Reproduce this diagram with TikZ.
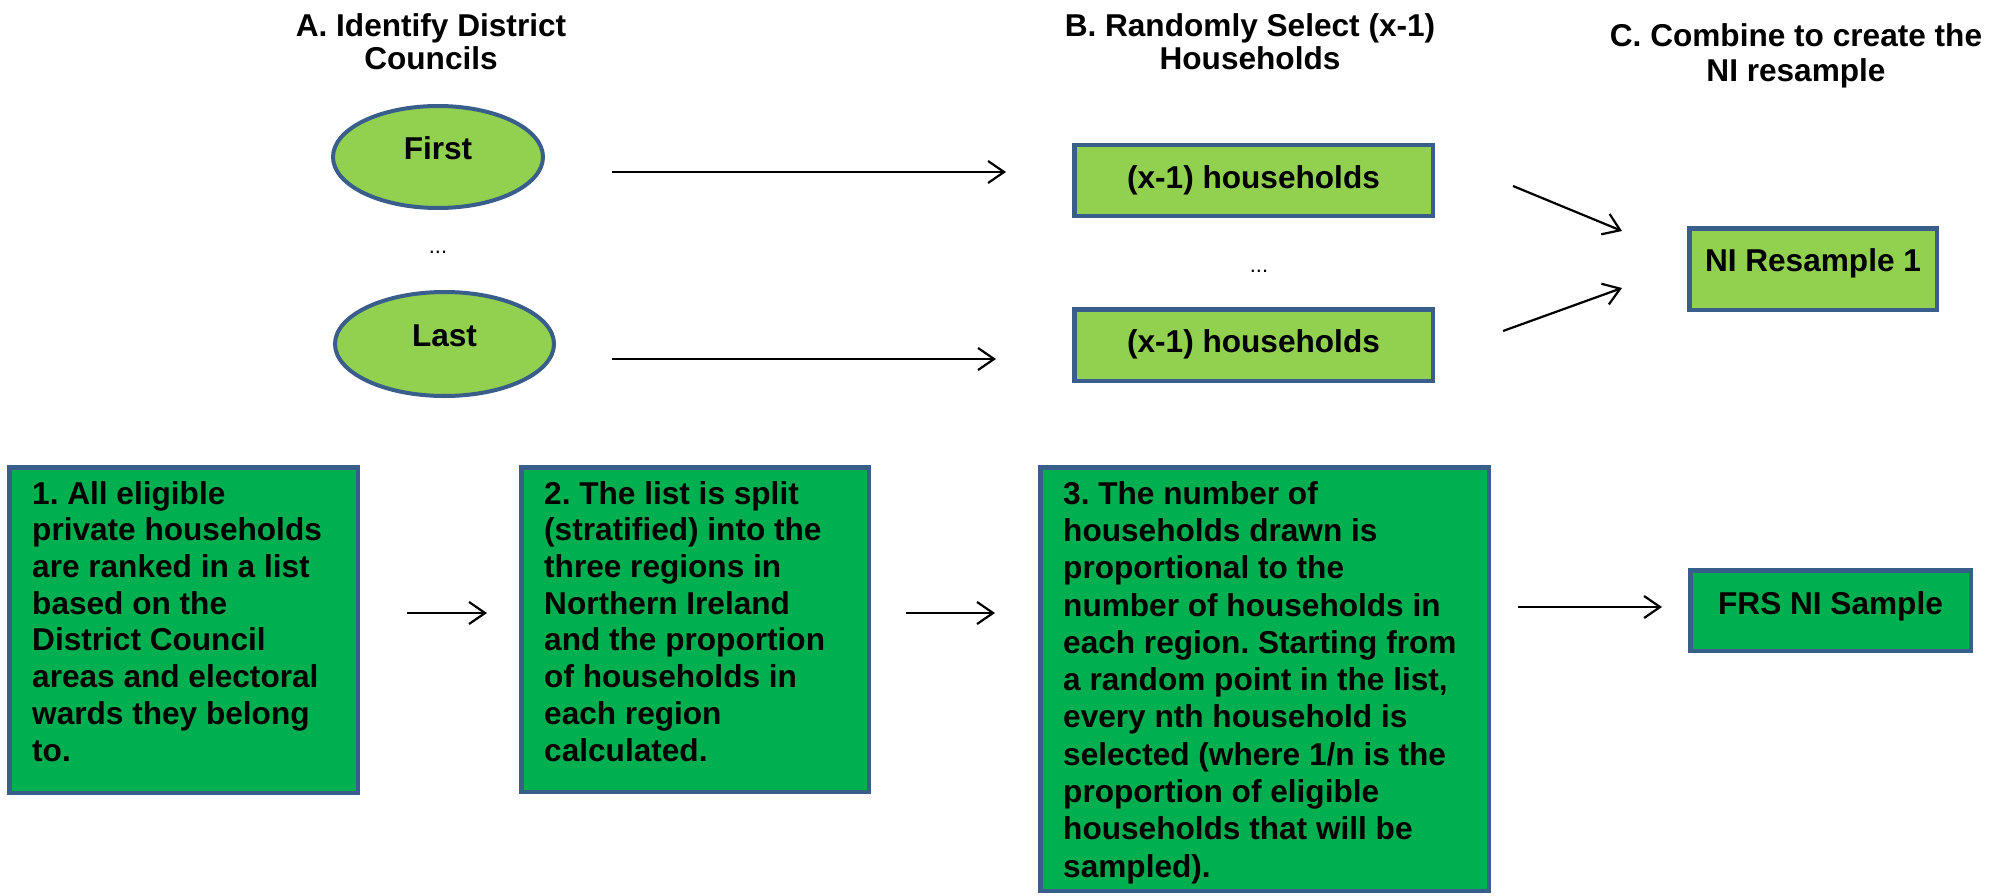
\documentclass[tikz,border=0pt]{standalone}
\usepackage{fontspec}
\setmainfont{Liberation Sans}
\usetikzlibrary{arrows.meta,shapes.geometric}
\definecolor{lgreen}{HTML}{92D050}
\definecolor{dgreen}{HTML}{00B050}
\definecolor{edgeblue}{HTML}{3A5E8C}
\frenchspacing
\begin{document}
\begin{tikzpicture}[x=1pt,y=-1pt,
  lbl/.style={font=\fontsize{31.6}{36.7}\selectfont\bfseries},
  lgbox/.style={draw=edgeblue, line width=4.5pt, fill=lgreen, rectangle, inner sep=0pt, lbl},
  dgbox/.style={draw=edgeblue, line width=4.5pt, fill=dgreen, rectangle, inner sep=0pt},
  council/.style={draw=edgeblue, line width=4pt, fill=lgreen, ellipse, inner sep=0pt, lbl, text height=22.6pt, text depth=18pt},
  arr/.style={line width=2.2pt, -{Straight Barb[length=16pt,width=22pt]}},
  boxtext/.style={lbl, anchor=north west, inner sep=0pt, align=left},
  title/.style={font=\fontsize{31.6}{33}\selectfont\bfseries, anchor=north, inner sep=0pt, align=center},
  dots/.style={font=\fontsize{22}{26}\selectfont, inner sep=0pt}]
\useasboundingbox (0,0) rectangle (2009,896);

% titles
\node[title] (ta) at (431,13.5) {A. Identify District\\Councils};
\node[title] (tb) at (1250,13.5) {B. Randomly Select (x-1)\\Households};
\node[title, font=\fontsize{31.6}{35}\selectfont\bfseries] (tc) at (1796,23) {C. Combine to create the\\NI resample};

% district councils
\node[council, minimum width=210pt, minimum height=102pt] (first) at (438,157) {First};
\node[council, minimum width=219pt, minimum height=104pt] (last) at (444.5,344) {Last};
\node[dots] (d1) at (438,252) {...};

% households
\node[lgbox, minimum width=358.5pt, minimum height=70.5pt, text height=22.6pt, text depth=7pt] (hh1) at (1253.5,180.5) {(x-1) households};
\node[lgbox, minimum width=358.5pt, minimum height=71.5pt, text height=22.6pt, text depth=7pt] (hh2) at (1253.5,345) {(x-1) households};
\node[dots] (d2) at (1259,271) {...};

% resample
\node[lgbox, minimum width=247.5pt, minimum height=81.5pt, text height=22.6pt, text depth=18pt] (nir) at (1813,269) {NI Resample 1};

% bottom steps
\node[dgbox, minimum width=348.5pt, minimum height=325.5pt] (b1) at (183.5,630) {};
\node[boxtext] (t1) at (32,481) {1. All eligible\\private households\\are ranked in a list\\based on the\\District Council\\areas and electoral\\wards they belong\\to.};
\node[dgbox, minimum width=347.5pt, minimum height=324.5pt] (b2) at (695,629.5) {};
\node[boxtext] (t2) at (544,481) {2. The list is split\\(stratified) into the\\three regions in\\Northern Ireland\\and the proportion\\of households in\\each region\\calculated.};
\node[dgbox, minimum width=448.5pt, minimum height=423.5pt] (b3) at (1264.5,679) {};
\node[boxtext, font=\fontsize{31.6}{37.3}\selectfont\bfseries] (t3) at (1063,481) {3. The number of\\households drawn is\\proportional to the\\number of households in\\each region. Starting from\\a random point in the list,\\every nth household is\\selected (where 1/n is the\\proportion of eligible\\households that will be\\sampled).};
\node[dgbox, lbl, minimum width=280.5pt, minimum height=80.5pt, text height=22.6pt, text depth=15pt] (frs) at (1830.5,610.5) {FRS NI Sample};

% arrow end points
\coordinate (a1s) at (612,172);  \coordinate (a1e) at (1006,172);
\coordinate (a2s) at (612,359);  \coordinate (a2e) at (996,359);
\coordinate (a3s) at (1513,186); \coordinate (a3e) at (1622,231);
\coordinate (a4s) at (1503,331); \coordinate (a4e) at (1622,288);
\coordinate (a5s) at (407,613);  \coordinate (a5e) at (487,613);
\coordinate (a6s) at (906,613);  \coordinate (a6e) at (995,613);
\coordinate (a7s) at (1518,607); \coordinate (a7e) at (1662,607);

\draw[arr] (a1s) -- (a1e);
\draw[arr] (a2s) -- (a2e);
\draw[arr] (a3s) -- (a3e);
\draw[arr] (a4s) -- (a4e);
\draw[arr] (a5s) -- (a5e);
\draw[arr] (a6s) -- (a6e);
\draw[arr] (a7s) -- (a7e);
\end{tikzpicture}
\end{document}
